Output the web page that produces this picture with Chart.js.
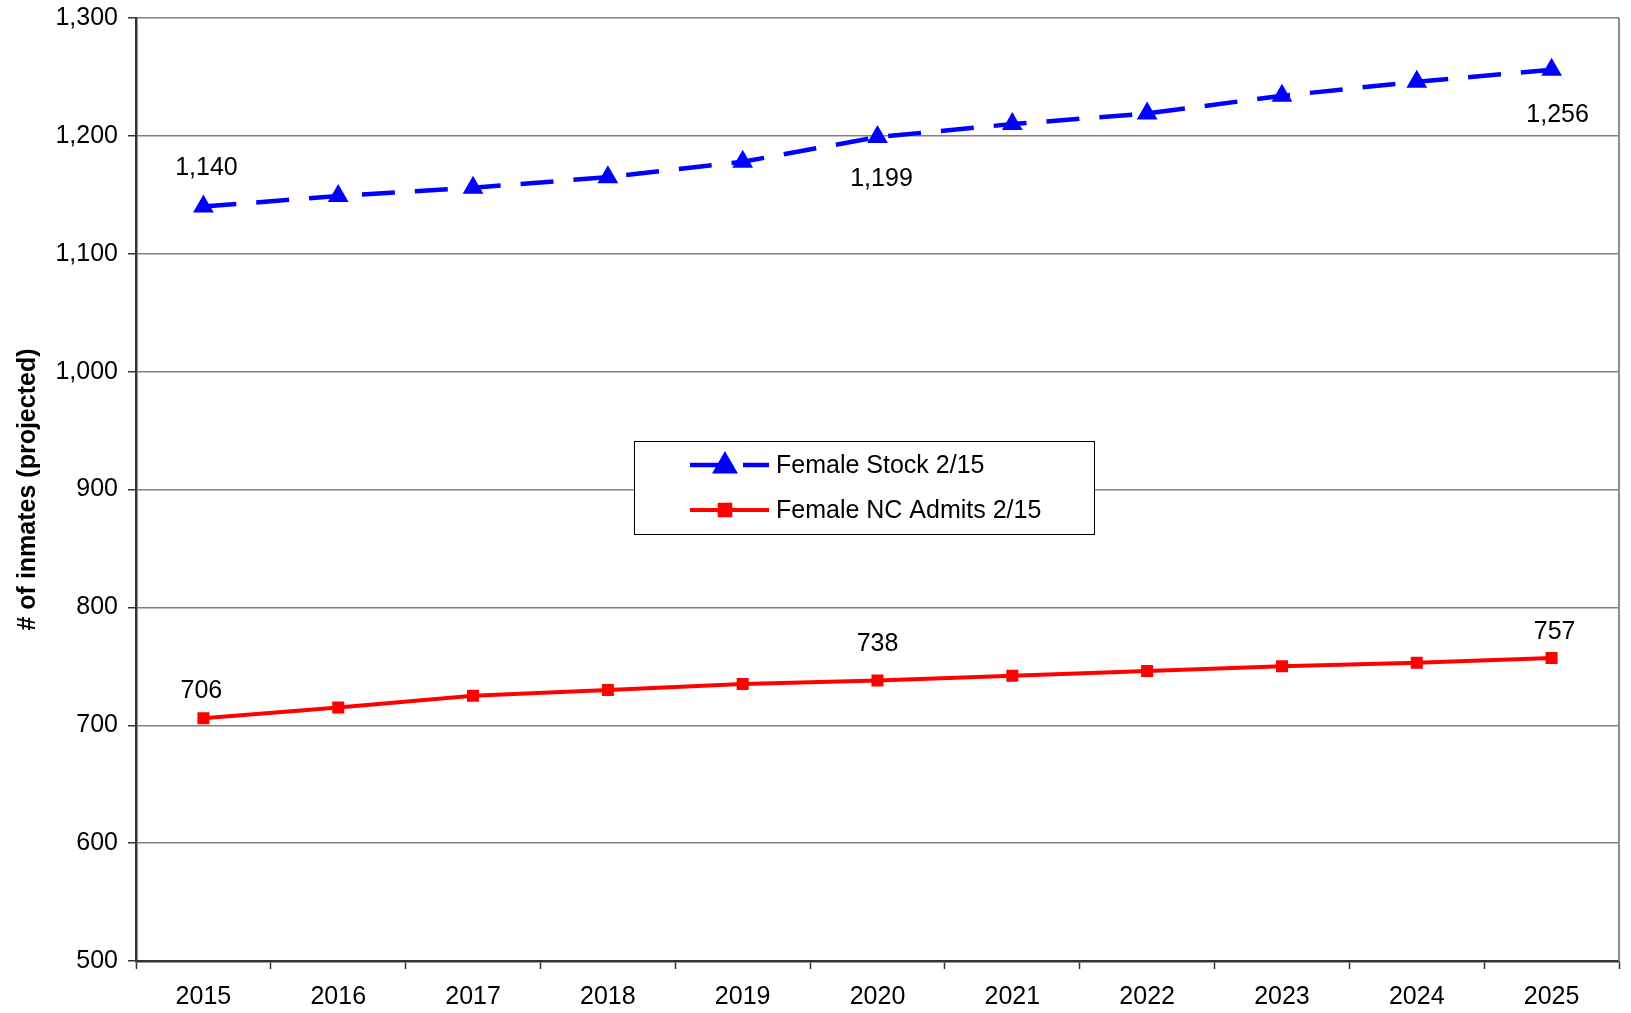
<!DOCTYPE html>
<html>
<head>
<meta charset="utf-8">
<script src="https://cdn.jsdelivr.net/npm/chart.js@4.4.0/dist/chart.umd.min.js"></script>
<style>
  html, body { margin: 0; padding: 0; background: #fff; }
  #wrap { width: 1631px; height: 1013px; position: relative; }
</style>
</head>
<body>
<div id="wrap"><canvas id="chart"></canvas></div>
<script>
const years = ['2015', '2016', '2017', '2018', '2019', '2020', '2021', '2022', '2023', '2024', '2025'];
const femaleStock = [1140, 1149, 1156, 1165, 1178, 1199, 1210, 1219, 1234, 1246, 1256];
const femaleAdmits = [706, 715, 725, 730, 735, 738, 742, 746, 750, 753, 757];
const yTicks = [500, 600, 700, 800, 900, 1000, 1100, 1200, 1300];

// which points carry a value label, and how far from the point (px, negative = above)
const labelPoints = [
    { ds: 0, i: 0, dx: 3, dy: -38 },
    { ds: 0, i: 5, dx: 4, dy: 42 },
    { ds: 0, i: 10, dx: 6, dy: 45 },
    { ds: 1, i: 0, dx: -2, dy: -27 },
    { ds: 1, i: 5, dx: 0, dy: -36 },
    { ds: 1, i: 10, dx: 3, dy: -26 }
];

const FONT = "'Liberation Sans', Arial, sans-serif";

// value labels + right frame line + legend box, drawn after the datasets
const extrasPlugin = {
    id: 'extras',
    afterDatasetsDraw(chart) {
        const ctx = chart.ctx;
        const area = chart.chartArea;
        ctx.save();

        // right frame
        ctx.strokeStyle = '#8c8c8c';
        ctx.lineWidth = 2;
        ctx.beginPath();
        ctx.moveTo(area.right, area.top);
        ctx.lineTo(area.right, area.bottom);
        ctx.stroke();

        // value labels
        ctx.fillStyle = '#000';
        ctx.font = '25px ' + FONT;
        ctx.textAlign = 'center';
        ctx.textBaseline = 'middle';
        labelPoints.forEach(lp => {
            const pt = chart.getDatasetMeta(lp.ds).data[lp.i];
            const v = chart.data.datasets[lp.ds].data[lp.i];
            ctx.fillText(v.toLocaleString('en-US'), pt.x + lp.dx, pt.y + lp.dy);
        });

        // legend
        const bx = 634, by = 441, bw = 460, bh = 93;
        ctx.fillStyle = '#fff';
        ctx.fillRect(bx, by, bw, bh);
        ctx.strokeStyle = '#000';
        ctx.lineWidth = 1;
        ctx.strokeRect(bx + 0.5, by + 0.5, bw, bh);

        const rows = [465, 510];
        chart.data.datasets.forEach((ds, k) => {
            const y = rows[k];
            ctx.strokeStyle = ds.borderColor;
            ctx.lineWidth = ds.borderWidth;
            ctx.beginPath();
            if (ds.borderDash) {
                ctx.moveTo(690, y); ctx.lineTo(722, y);
                ctx.moveTo(743, y); ctx.lineTo(769, y);
            } else {
                ctx.moveTo(690, y); ctx.lineTo(769, y);
            }
            ctx.stroke();
            Chart.helpers.drawPoint(ctx, {
                pointStyle: ds.pointStyle,
                radius: ds.pointStyle === 'triangle' ? 10.5 : 7.5,
                rotation: 0,
                borderWidth: 1
            }, 725, ds.pointStyle === 'triangle' ? y + 1 : y);
            ctx.fillStyle = ds.backgroundColor;
            ctx.fill();
            ctx.fillStyle = '#000';
            ctx.font = '25px ' + FONT;
            ctx.textAlign = 'left';
            ctx.fillText(ds.label, 776, y + 1);
        });
        ctx.restore();
    }
};

new Chart(document.getElementById('chart').getContext('2d'), {
    type: 'line',
    data: {
        labels: years,
        datasets: [
            {
                label: 'Female Stock 2/15',
                data: femaleStock,
                borderColor: '#0000ff',
                backgroundColor: '#0000ff',
                borderWidth: 4.5,
                borderDash: [33, 20],
                pointStyle: 'triangle',
                pointRadius: 12,
                pointBorderWidth: 0,
                tension: 0
            },
            {
                label: 'Female NC Admits 2/15',
                data: femaleAdmits,
                borderColor: '#ff0000',
                backgroundColor: '#ff0000',
                borderWidth: 4,
                pointStyle: 'rect',
                pointRadius: 8.5,
                pointBorderWidth: 0,
                tension: 0
            }
        ]
    },
    options: {
        responsive: true,
        maintainAspectRatio: false,
        animation: false,
        layout: { padding: { top: 18, right: 9, left: 0, bottom: 0 } },
        plugins: {
            legend: { display: false },
            tooltip: { enabled: false }
        },
        scales: {
            x: {
                type: 'category',
                offset: true,
                grid: {
                    offset: true,
                    drawOnChartArea: false,
                    color: '#333',
                    tickLength: 8,
                    tickWidth: 1.5
                },
                border: { color: '#333', width: 2.5 },
                ticks: {
                    color: '#000',
                    font: { family: FONT, size: 25 },
                    padding: 13,
                    maxRotation: 0
                },
                afterFit(scale) { scale.height = 52; }
            },
            y: {
                min: 500,
                max: 1300,
                afterBuildTicks(scale) {
                    scale.ticks = yTicks.map(v => ({ value: v }));
                },
                grid: {
                    color: '#808080',
                    lineWidth: 1.5,
                    tickLength: 8,
                    tickColor: '#333'
                },
                border: { color: '#333', width: 2.5 },
                ticks: {
                    color: '#000',
                    font: { family: FONT, size: 25 },
                    padding: 10,
                    callback: v => v.toLocaleString('en-US')
                },
                title: {
                    display: true,
                    text: '# of inmates (projected)',
                    color: '#000',
                    font: { family: FONT, size: 25, weight: 'bold' },
                    padding: { top: 13, bottom: 0 }
                },
                afterFit(scale) {
                    scale.width = 136;
                    // let the layout padding alone decide the top/bottom gap
                    scale.paddingTop = 0;
                    scale.paddingBottom = 0;
                }
            }
        }
    },
    plugins: [extrasPlugin]
});
</script>
</body>
</html>
